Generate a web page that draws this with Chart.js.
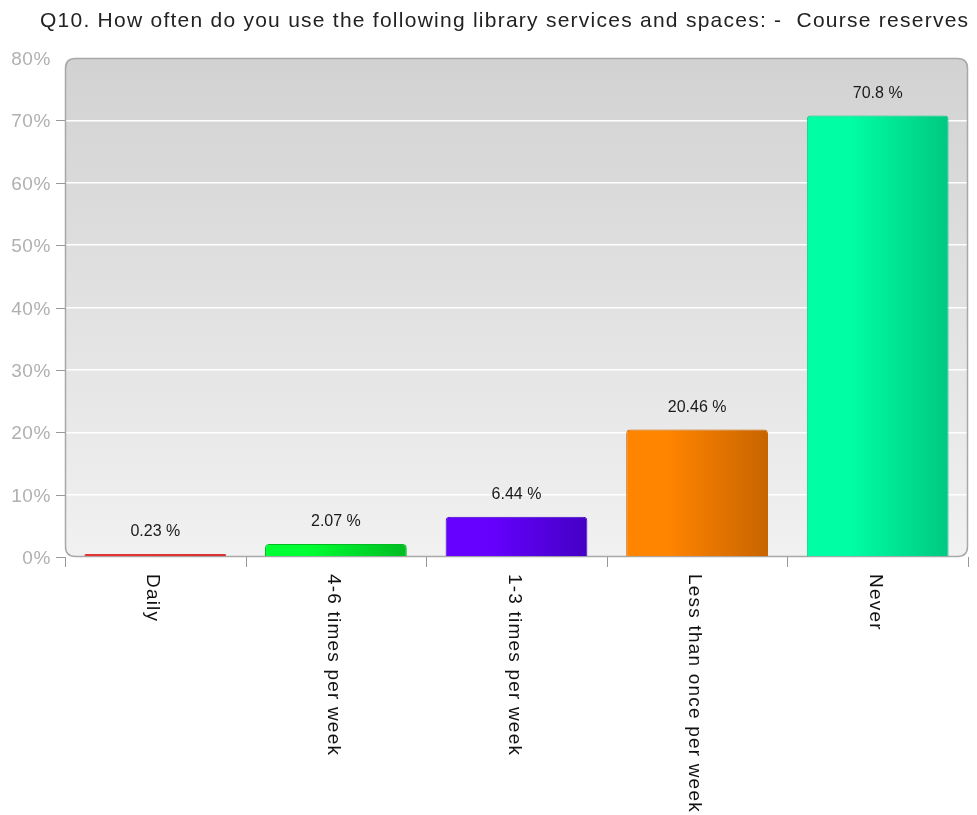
<!DOCTYPE html>
<html>
<head>
<meta charset="utf-8">
<script src="https://cdn.jsdelivr.net/npm/chart.js@4.4.0/dist/chart.umd.min.js"></script>
<style>
  html,body{margin:0;padding:0;background:#fff;}
  #wrap{width:977px;height:815px;position:relative;}
</style>
</head>
<body>
<div id="wrap"><canvas id="chart" width="977" height="815"></canvas></div>
<script>
// Q10 survey answers
const TITLE = 'Q10. How often do you use the following library services and spaces: -  Course reserves';
const CATEGORIES = ['Daily', '4-6 times per week', '1-3 times per week', 'Less than once per week', 'Never'];
const PERCENTS = [0.23, 2.07, 6.44, 20.46, 70.8];
const Y_TICKS = [0, 10, 20, 30, 40, 50, 60, 70, 80];

// left/right shade of each bar
const BAR_LIGHT = ['#f03434', '#00ff33', '#6600ff', '#ff8400', '#00ffa4'];
const BAR_DARK  = ['#d83232', '#00bb22', '#4400c4', '#c86400', '#00c882'];

const BAR_PCT = 0.785;
const FONT = '"Liberation Sans", Arial, sans-serif';

function barGradient(ctx){
  const chart = ctx.chart;
  const i = ctx.dataIndex;
  const xs = chart.scales.x;
  if(!chart.chartArea || !xs || i === undefined) return BAR_LIGHT[i || 0];
  const cx = xs.getPixelForValue(i);
  const w = (chart.chartArea.width / CATEGORIES.length) * BAR_PCT;
  const g = chart.ctx.createLinearGradient(cx - w/2, 0, cx + w/2, 0);
  g.addColorStop(0, BAR_LIGHT[i]);
  g.addColorStop(0.3, BAR_LIGHT[i]);
  g.addColorStop(1, BAR_DARK[i]);
  return g;
}

function roundRect(c, x, y, w, h, r){
  c.beginPath();
  c.moveTo(x + r, y);
  c.lineTo(x + w - r, y);
  c.quadraticCurveTo(x + w, y, x + w, y + r);
  c.lineTo(x + w, y + h - r);
  c.quadraticCurveTo(x + w, y + h, x + w - r, y + h);
  c.lineTo(x + r, y + h);
  c.quadraticCurveTo(x, y + h, x, y + h - r);
  c.lineTo(x, y + r);
  c.quadraticCurveTo(x, y, x + r, y);
  c.closePath();
}

// grey plot panel, frame, ticks, labels
const frame = {
  id: 'frame',
  beforeDraw(chart){
    const {ctx, chartArea: a} = chart;
    ctx.save();
    const g = ctx.createLinearGradient(0, a.top, 0, a.bottom);
    g.addColorStop(0, '#d2d2d2');
    g.addColorStop(1, '#f1f1f1');
    roundRect(ctx, a.left, a.top, a.width, a.height, 10);
    ctx.fillStyle = g;
    ctx.fill();

    ctx.fillStyle = '#222';
    ctx.font = '21px ' + FONT;
    ctx.letterSpacing = '1.25px';
    ctx.textAlign = 'left';
    ctx.textBaseline = 'alphabetic';
    ctx.fillText(TITLE, 40, 27);
    ctx.restore();
  },
  beforeDatasetsDraw(chart){
    const {ctx, chartArea: a, scales} = chart;
    ctx.save();
    roundRect(ctx, a.left + 0.5, a.top + 0.5, a.width - 1, a.height - 1, 10);
    ctx.strokeStyle = '#a8a8a8';
    ctx.lineWidth = 1.5;
    ctx.stroke();

    // y ticks and labels
    ctx.strokeStyle = '#999';
    ctx.lineWidth = 1;
    ctx.fillStyle = '#b0b0b0';
    ctx.font = '19px ' + FONT;
    ctx.letterSpacing = '0.6px';
    ctx.textAlign = 'right';
    ctx.textBaseline = 'middle';
    Y_TICKS.forEach(v => {
      const y = Math.round(scales.y.getPixelForValue(v)) + 0.5;
      if(v < 80){
        ctx.beginPath();
        ctx.moveTo(a.left - 9, y);
        ctx.lineTo(a.left, y);
        ctx.stroke();
      }
      ctx.fillText(v + '%', a.left - 14, y + 1);
    });

    // x category boundary ticks
    const step = a.width / CATEGORIES.length;
    for(let k = 0; k <= CATEGORIES.length; k++){
      const x = Math.round(scales.x.getPixelForValue(k) - step/2) + 0.5;
      ctx.beginPath();
      ctx.moveTo(x, a.bottom);
      ctx.lineTo(x, a.bottom + 10);
      ctx.stroke();
    }

    // category labels, turned to read downwards
    ctx.fillStyle = '#111';
    ctx.font = '19px ' + FONT;
    ctx.letterSpacing = '1.2px';
    ctx.textAlign = 'left';
    ctx.textBaseline = 'alphabetic';
    CATEGORIES.forEach((c, i) => {
      const x = scales.x.getPixelForValue(i) - 8;
      ctx.save();
      ctx.translate(x, a.bottom + 17);
      ctx.rotate(Math.PI / 2);
      ctx.fillText(c, 0, 0);
      ctx.restore();
    });
    ctx.restore();
  },
  afterDatasetsDraw(chart){
    const {ctx} = chart;
    const meta = chart.getDatasetMeta(0);
    ctx.save();
    ctx.fillStyle = '#1a1a1a';
    ctx.font = '16px ' + FONT;
    ctx.letterSpacing = '0px';
    ctx.textAlign = 'center';
    ctx.textBaseline = 'middle';
    meta.data.forEach((bar, i) => {
      ctx.fillText(PERCENTS[i] + ' %', bar.x, bar.y - 22);
    });
    ctx.restore();
  }
};

new Chart(document.getElementById('chart'), {
  type: 'bar',
  data: {
    labels: CATEGORIES,
    datasets: [{
      data: PERCENTS,
      backgroundColor: barGradient,
      borderColor: BAR_DARK,
      borderWidth: 1,
      borderSkipped: 'bottom',
      borderRadius: {topLeft: 4, topRight: 4, bottomLeft: 0, bottomRight: 0},
      minBarLength: 3,
      barPercentage: BAR_PCT,
      categoryPercentage: 1
    }]
  },
  options: {
    responsive: false,
    animation: false,
    events: [],
    layout: {padding: {left: 65, top: 58, right: 9, bottom: 258}},
    plugins: {legend: {display: false}, tooltip: {enabled: false}, title: {display: false}},
    scales: {
      x: {
        display: false
      },
      y: {
        min: 0,
        max: 80,
        ticks: {display: false, stepSize: 10},
        border: {display: false},
        grid: {
          drawTicks: false,
          lineWidth: 1.5,
          color: c => (c.tick && (c.tick.value === 0 || c.tick.value === 80)) ? 'rgba(0,0,0,0)' : '#ffffff'
        }
      }
    }
  },
  plugins: [frame]
});
</script>
</body>
</html>
